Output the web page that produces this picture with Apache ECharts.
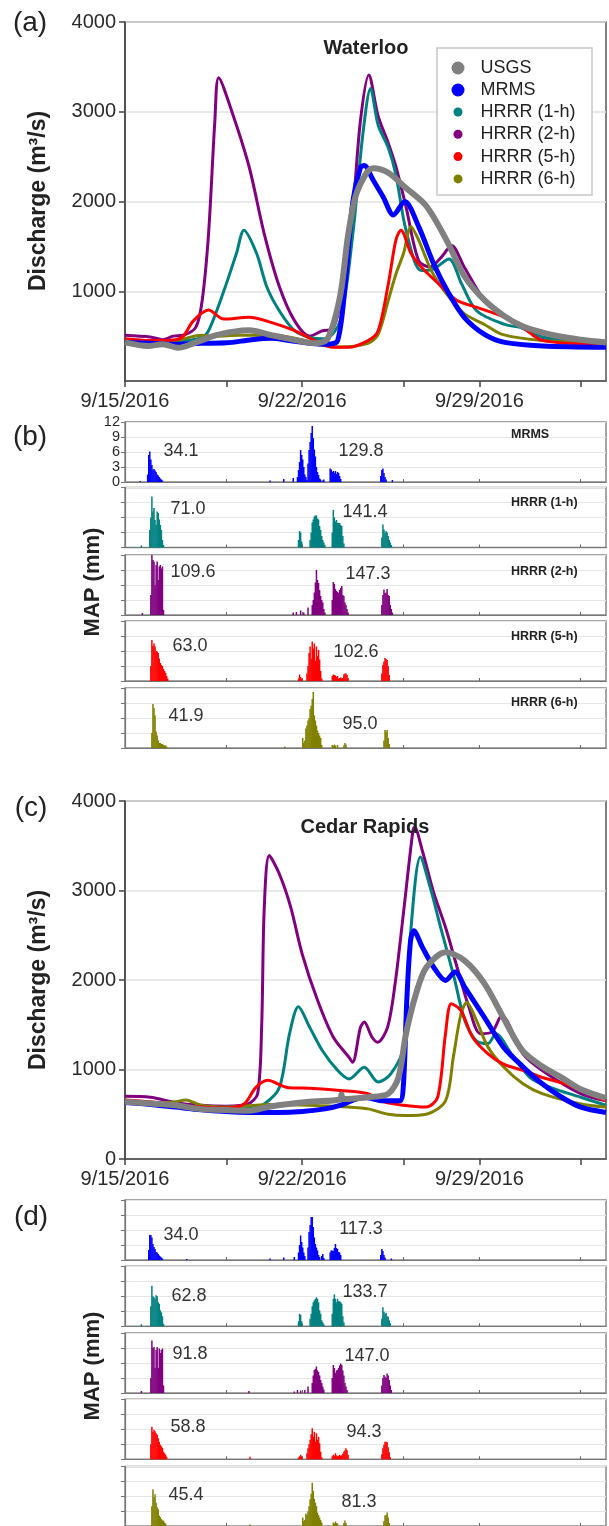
<!DOCTYPE html>
<html><head><meta charset="utf-8">
<script src="https://cdn.jsdelivr.net/npm/echarts@6/dist/echarts.min.js"></script>
<style>html,body{margin:0;padding:0;background:#fff}#c{width:609px;height:1526px}</style>
</head><body><div id="c"></div>
<script>
// ---------------- DATA ----------------
// x = days since 9/15/2016 00:00
const xTickLabels = ['9/15/2016', '9/22/2016', '9/29/2016'];
const xLabelDays = [0, 7, 14];
const xTickDays = [0, 4, 7, 11, 14, 18];
const seriesNames = ['USGS', 'MRMS', 'HRRR (1-h)', 'HRRR (2-h)', 'HRRR (5-h)', 'HRRR (6-h)'];
const rainNames = ['MRMS', 'HRRR (1-h)', 'HRRR (2-h)', 'HRRR (5-h)', 'HRRR (6-h)'];

// Waterloo discharge [day, m3/s]
const wUSGS = [[0,430],[0.9,390],[1.5,410],[2.1,370],[2.8,430],[3.6,510],[4.3,550],[4.9,565],[5.8,510],[6.5,470],[7.0,440],[7.5,420],[8.0,470],[8.5,950],[8.8,1600],[9.1,2050],[9.5,2300],[9.8,2370],[10.4,2320],[11.1,2150],[11.9,1950],[12.7,1570],[13.4,1170],[14.2,900],[15.0,720],[15.7,610],[16.5,540],[17.3,490],[18.0,460],[19,430]];
const wMRMS = [[0,430],[1,420],[2,410],[3,420],[4,425],[5,460],[5.8,475],[6.5,450],[7.3,420],[8.0,410],[8.4,450],[8.7,1080],[9.0,2000],[9.3,2380],[9.45,2400],[9.8,2240],[10.2,2050],[10.6,1850],[11.05,2000],[11.6,1720],[12.2,1300],[12.8,970],[13.4,710],[14.2,520],[15.0,430],[16.5,390],[19,375]];
const wH1 = [[0,450],[1,430],[2,440],[3,480],[3.3,560],[3.9,1000],[4.4,1420],[4.7,1680],[5.2,1420],[5.6,1050],[6.1,780],[6.7,560],[7.3,485],[7.9,470],[8.5,670],[9.0,1640],[9.4,2760],[9.7,3260],[10.0,2850],[10.4,2600],[10.7,2300],[11.1,1680],[11.7,1230],[12.2,1250],[12.8,1360],[13.3,1080],[13.9,780],[15.0,630],[15.7,590],[16.5,490],[19,410]];
const wH2 = [[0,510],[1,490],[1.5,460],[1.9,500],[2.3,510],[2.8,600],[3.05,900],[3.3,1640],[3.55,2900],[3.7,3380],[4.2,3020],[4.9,2390],[5.5,1640],[6.1,1050],[6.7,670],[7.3,500],[7.8,560],[8.2,580],[8.6,1000],[9.0,1900],[9.3,2900],[9.63,3410],[10.0,2950],[10.4,2650],[10.7,2390],[11.1,1940],[11.6,1340],[12.05,1270],[12.5,1380],[12.9,1510],[13.4,1270],[14.2,900],[15.0,710],[16.5,485],[19,410]];
const wH5 = [[0,470],[1,450],[2,460],[2.3,500],[2.7,670],[3.3,790],[3.9,690],[4.9,710],[5.8,650],[6.7,560],[7.5,450],[8.1,380],[8.8,375],[9.6,450],[10.0,560],[10.4,1080],[10.7,1570],[10.9,1680],[11.3,1420],[11.7,1270],[12.4,1080],[13.1,900],[13.9,820],[15.0,710],[15.7,600],[16.5,450],[19,410]];
const wH6 = [[0,460],[1,440],[2,450],[3,510],[3.6,500],[4.5,510],[5.8,510],[7.0,460],[7.7,400],[8.5,380],[9.6,420],[10.0,520],[10.4,900],[10.7,1190],[11.0,1420],[11.3,1720],[11.6,1570],[12.1,1230],[12.7,970],[13.4,750],[14.2,630],[14.9,520],[16.5,450],[19,420]];

// Cedar Rapids discharge [day, m3/s]
const cUSGS = [[0,640],[1,620],[2,600],[2.9,560],[3.5,550],[4.9,540],[5.8,590],[7.3,640],[8.5,665],[8.55,720],[8.6,670],[9.6,690],[10.4,730],[10.8,910],[11.1,1400],[11.5,1850],[11.9,2140],[12.66,2310],[13.4,2220],[14.2,1960],[15.0,1550],[15.7,1210],[16.5,1030],[17.25,910],[18.0,780],[19,680]];
const cMRMS = [[0,630],[1,610],[2,580],[3,550],[4,530],[4.9,520],[6,520],[7,530],[7.9,560],[8.5,600],[9.45,690],[10.2,650],[10.85,650],[11.0,840],[11.13,1770],[11.28,2440],[11.41,2550],[11.74,2370],[12.2,2140],[12.66,1995],[13.04,2090],[13.42,1920],[14.19,1585],[14.95,1250],[15.72,1030],[16.48,840],[17.25,690],[18.0,580],[19,520]];
const cH1 = [[0,650],[1,630],[2,600],[3,570],[4,560],[5,570],[5.5,615],[6.1,800],[6.5,1400],[6.85,1700],[7.3,1470],[7.8,1210],[8.4,990],[8.85,895],[9.45,1025],[10.0,860],[10.5,950],[11.0,1250],[11.28,2520],[11.67,3375],[12.05,3040],[12.5,2555],[13.0,2030],[13.42,1550],[13.88,1320],[14.34,1290],[14.65,1400],[15.26,1175],[16.0,910],[16.8,800],[18.0,690],[19,600]];
const cH2 = [[0,700],[1,690],[2,630],[3,600],[4,590],[4.86,615],[5.24,730],[5.4,1500],[5.5,2800],[5.7,3390],[6.09,3190],[6.54,2820],[7.0,2290],[7.61,1770],[8.23,1360],[8.84,1140],[8.99,1080],[9.3,1470],[9.45,1530],[9.76,1360],[9.98,1305],[10.37,1470],[10.67,1960],[10.98,2700],[11.36,3640],[11.44,3710],[11.74,3450],[12.2,2970],[12.66,2590],[13.12,2140],[13.58,1700],[14.04,1400],[14.5,1420],[14.88,1600],[15.72,1175],[16.48,990],[18.0,730],[19,650]];
const cH5 = [[0,660],[1,640],[2,600],[3,580],[4,570],[4.7,615],[5.17,800],[5.63,880],[6.4,800],[7.3,790],[8.5,765],[9.6,730],[10.06,650],[11.0,600],[11.9,580],[12.35,690],[12.66,1400],[12.89,1735],[13.27,1660],[13.73,1360],[14.34,1175],[14.95,1060],[15.72,990],[16.48,910],[17.4,840],[18.0,765],[19,650]];
const cH6 = [[0,640],[1,620],[2,640],[2.4,660],[3,600],[4,580],[5.8,610],[7.3,600],[8.8,580],[9.6,560],[10.4,500],[11.1,485],[11.9,500],[12.66,650],[12.97,1140],[13.27,1620],[13.5,1750],[13.88,1550],[14.34,1250],[14.95,1030],[15.72,840],[16.48,730],[18.0,615],[19,580]];

// Hourly mean areal precipitation (mm): each run = [start hour since 9/15 00:00, values...]
const bMRMS = [[14,0.2],[21,1.5,5.4,6.1,4.5,3.4,2.5,2.6,2.3,2.0,1.5,1.3,1.0,0.7,0.5,0.3],[137,0.3],[150,0.6],[159,0.8],[163,1.0,2.4,4,6.4,5.4,4.5,3,1.5,1,0.4,3.7,6.4,8,9.8,11.2,8.8,6.5,5.1,3,2,1.4,0.7,0.5,0,0.3,0.5],[194,2.7,2.5,2.0,2.2,1.8,2.2,1.6,2.0,1.8,1.2,0.6],[242,1.2,2.4,2.7,1.8,1.0,0.5],[253,0.4]];
const bH1 = [[15,0.4],[23,3.5,6,10.2,7.2,7.9,5.5,4.5,7.2,6.9,5.6,4.5,3.5,1.5,0.5],[164,1.5,3.3,3,1.2],[175,1.5,3,5,5.6,6.2,6.4,6.4,5.8,5.6,4.3,3.5,2.3,1.5,1.0,0.5],[196,3,7.5,6,5.2,5.5,4.9,4.9,4.9,4.5,4.3,2.3,0.8],[243,2,4.6,3.6,2.9,3.3,3,2.3,1.5,1,0.5]];
const bH2 = [[16,0.4],[24,4,12,11,10.7,6,10,10.7,7,9.7,10,9.3,9.7,1],[159,0.5],[162,0.6],[166,0.9],[169,0.5],[173,1.5],[177,2,3,4.5,6.5,9,7,6.4,5,3.8,3,2.5,1.2,0.5],[196,3,6.6,6.2,5.2,4.8,4.6,4.4,5,5.4,5.8,4,3.8,2.5,2,1.2,0.5],[243,2,4,5.1,4.4,4.5,5.2,4,3.8,2,1.2,0.5]];
const bH5 = [[24,3,8.2,7,7.5,6.9,6,5.9,5.6,4.5,3.6,3.2,3,2.4,2,1.6,1,0.5],[164,0.5,1.3,0.8,0.5],[172,1.5,3,5.6,6.9,4.5,7.9,6.5,7.5,4,6.9,5,6.2,4.3,2,0.5],[196,1,1.3,1.2,1.1,0.8,1,0.5,0.6,0.7,0.5,0.6,1.3,1.5,1.5,1.2,0.6],[243,1.5,3.2,3.9,4.6,4.4,4.2,3,1.2]];
const bH6 = [[25,3,8.8,8,6.5,3.3,2.5,1.5,1,1,0.8,0.8,0.6,0.5,0.5,0.3],[151,0.3],[168,2,1,1.5,3.9,4.5,5.5,6,7.8,8.5,9.8,11.2,6.5,5.5,4.5,3.5,3,2.5,2,0.6],[196,0.6,0.4,0.7,0.5,0,0.6],[207,0.5,1,0.7],[245,1.5,3.6,3.2,3.6,2,0.8]];
const dMRMS = [[22,2,5,5,4.5,3.2,2.6,2.2,1.6,1.5,1.2,0.9,0.7,0.5,0.3],[58,0.2],[137,0.3],[150,0.5],[160,0.6],[164,1.5,3,4.9,3.6,2.5,1.5,0.8,0,0,2.5,5.6,7,8.6,8.6,6.6,4.5,3.2,2.5,1.9,1,0.6,0,0.8,1.2,0.4],[194,1.5,1.9,1.9,1.8,2.4,3.2,2.4,2.2,1.6,1.5,1.0],[242,1,2.2,1.8,1.0,0.5],[252,0.3]];
const dH1 = [[15,0.4],[24,4,8.1,6,5.8,5.5,6.2,6,4.8,4.5,3.2,2.8,2,0.5],[164,1,2.5,2.3,1],[175,1.5,2.5,4,4.8,5.2,5.5,5.8,5.5,4.8,3.2,2.5,1.2,0.8,0.4],[196,2.5,5.5,6.4,5.5,4.8,5.5,5,5,4.8,4.5,2,0.8],[243,1.5,3.8,2.9,2.5,2.7,2,1.9,1.2,0.6]];
const dH2 = [[15,0.4],[24,3,10.5,9,9.2,5,8.6,9.2,5,8.9,8,8.6,8.9,1.5],[117,0.4],[160,0.3],[163,0.6],[166,0.5],[170,0.6],[173,1.3],[177,2,3.5,4.6,4.8,5.3,4.5,4.2,3.5,2.6,2,1.3,0.7],[196,3,5.6,5,4,4.5,4.6,5,5.5,5.9,5.6,4.5,3.5,2,1.3,0.6],[243,1.5,3,3.6,3.3,3,3.9,3.5,2.6,1.5,0.6]];
const dH5 = [[24,3,6.5,5.5,5.9,5.6,5.2,4.9,4.2,3.5,2.9,2.6,2.3,1.5,1.2,0.9,0.5],[118,0.5],[164,0.3,0.6,0.9,0.6],[172,1.2,2.2,3,3.9,5,6.2,4.5,5.5,3.5,5.2,3.9,4.5,3.2,1.5,0.4],[196,0.6,0.9,0.7,1.2,0.8,0.6,0.7,0.9,0.7,0.8,1.1,1.5,1.8,2.2,1.8,0.9],[243,1,2.2,2.9,3.5,3.5,3.4,2.4,1.4,0.4]];
const dH6 = [[25,4,7.4,5.8,6.4,4.7,3.8,3.4,2.1,1.8,1.4,1.1,1.1,0.7,0.5],[118,0.3],[168,1.7,1,1.2,2.5,2.2,3,4,5.4,6.5,8.7,7.1,5.5,4.7,4,2.7,2.2,1.7,1.2,0.7],[197,0.7,0.5,0.9,0.6,0.5],[207,0.6,1.1,0.6],[245,1,2.1,2.2,2.7,1.7,0.6]];

// Event totals (mm)
const totalsB = [['34.1','129.8'],['71.0','141.4'],['109.6','147.3'],['63.0','102.6'],['41.9','95.0']];
const totalsD = [['34.0','117.3'],['62.8','133.7'],['91.8','147.0'],['58.8','94.3'],['45.4','81.3']];

// ---------------- LAYOUT / STYLE ----------------
const FONT = 'Liberation Sans, Arial, sans-serif';
const colors = ['#808080', '#0000ff', '#008080', '#800080', '#ff0000', '#808000'];
const widths = [6, 5, 3, 3, 3, 3];
const drawOrder = [3, 2, 5, 4, 1, 0]; // purple, teal, olive, red, blue, gray on top
const L = 125, W = 481;
const hydroGrids = [{top: 22, height: 359}, {top: 801, height: 358}];
const rainTopsB = [422, 487.5, 555, 621, 688];
const rainTopsD = [1200, 1266.3, 1333, 1399.3, 1466.5];
const rainH = 60;

function expand(runs) {
  const out = [];
  runs.forEach(r => { for (let i = 1; i < r.length; i++) if (r[i] > 0) out.push([(r[0] + i - 1 + 0.5) / 24, r[i]]); });
  return out;
}

const grids = [], xAxes = [], yAxes = [], series = [], graphics = [];
function addGrid(top, height, border) {
  grids.push({left: L, top: top, width: W, height: height, show: true, borderColor: border, borderWidth: 1.5, backgroundColor: 'rgba(0,0,0,0)'});
  return grids.length - 1;
}
function hydroAxes(gi, showZero) {
  xAxes.push({type: 'value', gridIndex: gi, min: 0, max: 19,
    axisLine: {show: true, lineStyle: {color: '#444', width: 1.5}},
    axisTick: {show: true, customValues: xTickDays, length: 6, lineStyle: {color: '#444', width: 1.5}},
    axisLabel: {show: true, customValues: xLabelDays, formatter: v => xTickLabels[xLabelDays.indexOf(v)] || '', fontSize: 20, color: '#2a2a2a', margin: 10, fontFamily: FONT},
    splitLine: {show: false}});
  yAxes.push({type: 'value', gridIndex: gi, min: 0, max: 4000, interval: 1000,
    axisLine: {show: true, lineStyle: {color: '#444', width: 1.5}},
    axisTick: {show: true, length: 6, lineStyle: {color: '#444', width: 1.5}},
    axisLabel: {fontSize: 20, color: '#2a2a2a', margin: 9, fontFamily: FONT, showMinLabel: showZero, formatter: v => String(v)},
    splitLine: {show: true, lineStyle: {color: '#e2e2e2', width: 1.5}}});
}
function rainAxes(gi, showLabels) {
  xAxes.push({type: 'value', gridIndex: gi, min: 0, max: 19,
    axisLine: {show: true, lineStyle: {color: '#777', width: 1.2}},
    axisTick: {show: true, customValues: [4, 7, 11, 14, 18], inside: true, length: 3, lineStyle: {color: '#666'}},
    axisLabel: {show: false}, splitLine: {show: false}});
  yAxes.push({type: 'value', gridIndex: gi, min: 0, max: 12, interval: 3,
    axisLine: {show: true, lineStyle: {color: '#777', width: 1.2}},
    axisTick: {show: true, length: 4, lineStyle: {color: '#777'}},
    axisLabel: {show: showLabels, fontSize: 14.5, color: '#2a2a2a', margin: 5, fontFamily: FONT, formatter: v => String(v)},
    splitLine: {show: true, lineStyle: {color: '#e6e6e6', width: 1}}});
}

// Hydrograph panels
const hydroData = [[wUSGS, wMRMS, wH1, wH2, wH5, wH6], [cUSGS, cMRMS, cH1, cH2, cH5, cH6]];
hydroGrids.forEach((g, k) => {
  const gi = addGrid(g.top, g.height, '#555');
  hydroAxes(gi, k === 1);
  drawOrder.forEach((si, z) => {
    series.push({type: 'line', name: seriesNames[si], xAxisIndex: gi, yAxisIndex: gi, data: hydroData[k][si],
      smooth: 0.3, showSymbol: false, symbol: 'circle', z: 2 + z * 0.01,
      color: colors[si], lineStyle: {color: colors[si], width: widths[si]}, itemStyle: {color: colors[si]}, silent: true, animation: false});
  });
});

// Rainfall panels
const rainB = [bMRMS, bH1, bH2, bH5, bH6];
const rainD = [dMRMS, dH1, dH2, dH5, dH6];
[[rainTopsB, rainB], [rainTopsD, rainD]].forEach(([tops, sets], k) => {
  tops.forEach((t, i) => {
    const gi = addGrid(t, rainH, '#888');
    rainAxes(gi, k === 0 && i === 0);
    series.push({type: 'bar', name: 'rain' + k + i, xAxisIndex: gi, yAxisIndex: gi, data: expand(sets[i]),
      barWidth: 1.5, itemStyle: {color: colors[i + 1]}, silent: true, animation: false});
  });
});

// Texts
function txt(x, y, s, size, opts) {
  graphics.push({type: 'text', x: x, y: y, z: 100, silent: true,
    style: Object.assign({text: s, fontSize: size, fontFamily: FONT, fill: '#222', align: 'center', verticalAlign: 'middle'}, opts || {})});
}
function rtxt(x, y, s, size) {
  graphics.push({type: 'text', x: x, y: y, rotation: Math.PI / 2, z: 100, silent: true,
    style: {text: s, fontSize: size, fontWeight: 'bold', fontFamily: FONT, fill: '#222', align: 'center', verticalAlign: 'middle'}});
}
txt(30, 23, '(a)', 28); txt(30, 437, '(b)', 28); txt(31, 808, '(c)', 28); txt(31, 1217, '(d)', 28);
txt(366, 48, 'Waterloo', 20, {fontWeight: 'bold'});
txt(365, 827, 'Cedar Rapids', 20, {fontWeight: 'bold'});
rtxt(39, 201, 'Discharge (m³/s)', 23);
rtxt(39, 980, 'Discharge (m³/s)', 23);
rtxt(93, 582, 'MAP (mm)', 22);
rtxt(93, 1366, 'MAP (mm)', 22);
const totPosB = [[[181,451],[361,451]],[[188,509],[365,512]],[[193,572],[368,574]],[[190,646],[356,652]],[[186,716],[360,724]]];
const totPosD = [[[181,1235],[361,1229]],[[189,1296],[365,1292]],[[190,1354],[367,1356]],[[188,1427],[364,1432]],[[186,1495],[359,1502]]];
const namePosY = [435, 503, 572, 637, 703];
totalsB.forEach((p, i) => p.forEach((s, j) => txt(totPosB[i][j][0], totPosB[i][j][1], s, 18, {fill: '#333'})));
totalsD.forEach((p, i) => p.forEach((s, j) => txt(totPosD[i][j][0], totPosD[i][j][1], s, 18, {fill: '#333'})));
rainNames.forEach((n, i) => txt(511, namePosY[i], n, 12.5, {fontWeight: 'bold', align: 'left'}));
// legend frame
graphics.push({type: 'rect', z: 3, silent: true, shape: {x: 437, y: 48, width: 155, height: 147}, style: {fill: '#fff', stroke: '#c8c8c8', lineWidth: 1.5}});

const option = {
  animation: false,
  backgroundColor: '#fff',
  grid: grids, xAxis: xAxes, yAxis: yAxes, series: series, graphic: graphics,
  legend: [
    {data: seriesNames.slice(0, 2), left: 451.5, top: 57, orient: 'vertical', icon: 'circle', itemWidth: 13, itemHeight: 13, itemGap: 0, padding: 0, z: 6,
      selectedMode: false, textStyle: {fontSize: 18, lineHeight: 22, color: '#222', fontFamily: FONT, padding: [0, 0, 0, 11]}},
    {data: seriesNames.slice(2), left: 453.5, top: 101, orient: 'vertical', icon: 'circle', itemWidth: 9, itemHeight: 9, itemGap: 0.3, padding: 0, z: 6,
      selectedMode: false, textStyle: {fontSize: 18, lineHeight: 22, color: '#222', fontFamily: FONT, padding: [0, 0, 0, 13]}}
  ]
};
const chart = echarts.init(document.getElementById('c'), null, {renderer: 'canvas'});
chart.setOption(option);
</script></body></html>
